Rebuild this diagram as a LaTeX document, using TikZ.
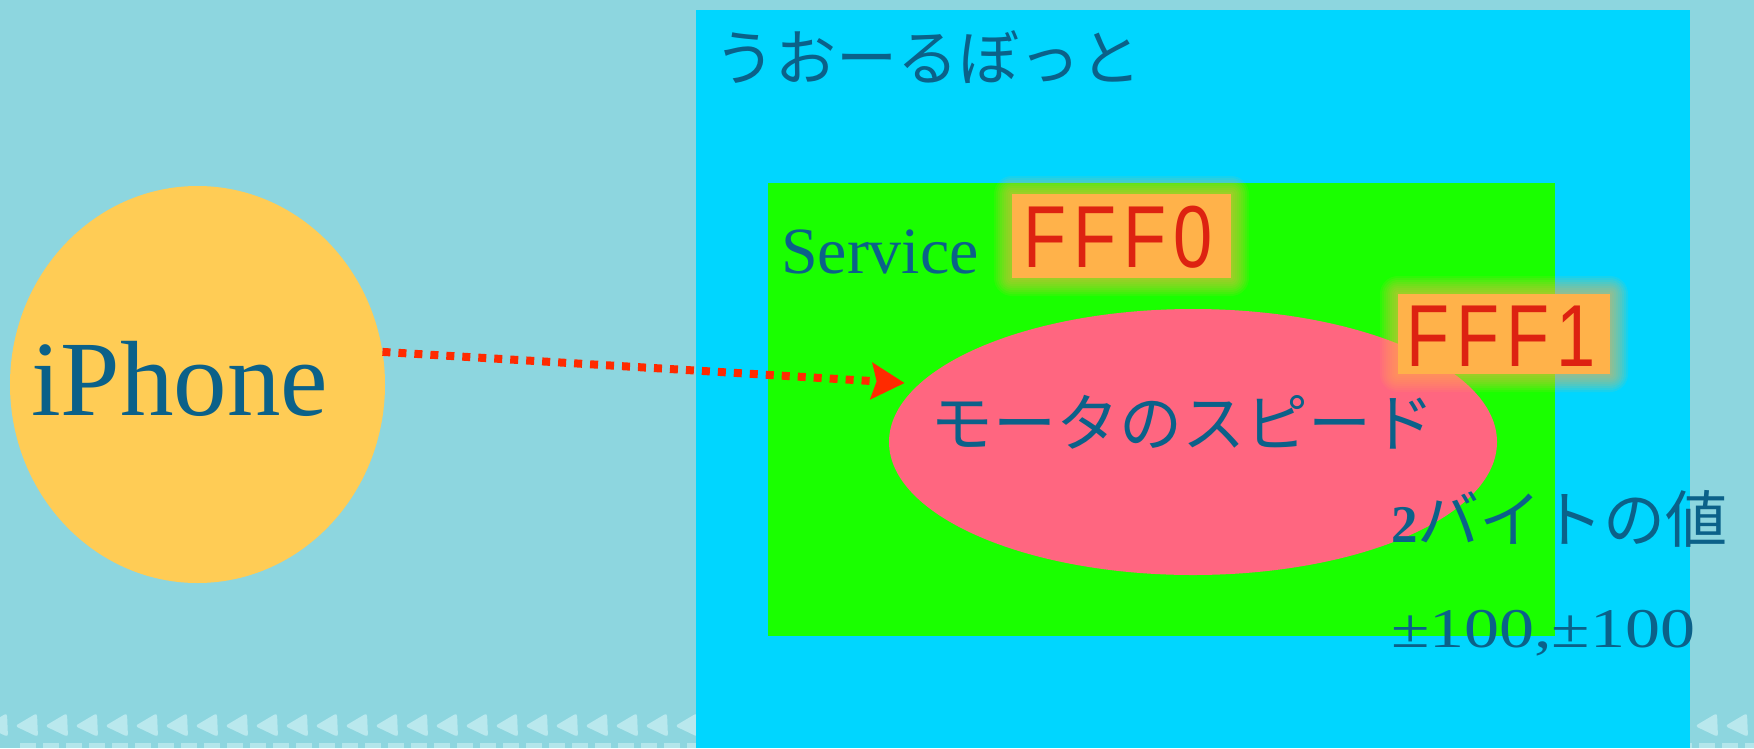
\documentclass[tikz,border=0pt]{standalone}
\usepackage{fontspec}
\usepackage{graphicx}
\setmainfont{Liberation Serif}
\newfontfamily\jp{Noto Sans CJK JP}
\newfontfamily\uuidfont[LetterSpace=10]{Liberation Sans}
\usetikzlibrary{arrows.meta,shapes.geometric}
\definecolor{bg}{HTML}{8DD6DF}
\definecolor{robotblue}{HTML}{00D6FF}
\definecolor{svcgreen}{HTML}{1AFF00}
\definecolor{phoneyellow}{HTML}{FFCC55}
\definecolor{charpink}{HTML}{FF6680}
\definecolor{uuidorange}{HTML}{FFB24A}
\definecolor{uuidred}{HTML}{DD2211}
\definecolor{txt}{HTML}{0B6189}
\definecolor{arrowred}{HTML}{FF2A00}
\definecolor{stripe}{HTML}{C4EDF1}
\newcommand{\uuid}[1]{\scalebox{0.8}[1]{\uuidfont\fontsize{88}{92}\selectfont #1}}
\tikzset{
  area/.style={rectangle, draw=none, inner sep=0pt, outer sep=0pt},
  oval/.style={ellipse, draw=none, inner sep=0pt, outer sep=0pt},
  label/.style={inner sep=0pt, outer sep=0pt, anchor=base west, text=txt},
  uuidbox/.style={rectangle, draw=none, fill=uuidorange, inner sep=0pt, outer sep=0pt},
  uuidtext/.style={inner sep=0pt, anchor=base west, text=uuidred},
  link/.style={arrowred, line width=8pt, dash pattern=on 8pt off 8pt, shorten >=15pt,
    -{Stealth[length=33pt,width=36pt,inset=5pt]}}
}
\begin{document}
\begin{tikzpicture}[x=1pt,y=-1pt]
\useasboundingbox (0,0) rectangle (1754,748);
\fill[bg] (0,0) rectangle (1754,748);
% bottom decorative strip
\foreach \i in {-1,...,58} {
  \fill[stripe, opacity=.8, rounded corners=3pt] ({\i*30+37},713) -- ({\i*30+38},737) -- ({\i*30+15},726) -- cycle;
}
\foreach \i in {0,...,76} {
  \fill[stripe, opacity=.7] ({\i*23+20},743) rectangle ({\i*23+36},748);
}
% robot and service areas
\node[area, fill=robotblue, minimum width=994pt, minimum height=738pt] (robot) at (1193,379) {};
\node[area, fill=svcgreen, minimum width=787pt, minimum height=453pt] (service) at (1161.5,409.5) {};
% FFF0 glow box
\node[uuidbox, minimum width=219pt, minimum height=84pt] (fff0box) at (1121.5,236) {};
\foreach \d in {2,4,...,18} {
  \fill[uuidorange, opacity=.09, rounded corners=\d pt] ([shift={(-\d,-\d)}]fff0box.north west) rectangle ([shift={(\d,\d)}]fff0box.south east);
}
\fill[uuidorange] (fff0box.north west) rectangle (fff0box.south east);
% characteristic ellipse
\node[oval, fill=charpink, minimum width=608pt, minimum height=266pt] (speed) at (1193,442) {};
% FFF1 glow box
\node[uuidbox, minimum width=212pt, minimum height=80pt] (fff1box) at (1504,334) {};
\foreach \d in {2,4,...,18} {
  \fill[uuidorange, opacity=.09, rounded corners=\d pt] ([shift={(-\d,-\d)}]fff1box.north west) rectangle ([shift={(\d,\d)}]fff1box.south east);
}
\fill[uuidorange] (fff1box.north west) rectangle (fff1box.south east);
% iPhone
\node[oval, fill=phoneyellow, minimum width=375pt, minimum height=397pt] (iphone) at (197.5,384.5) {};
% texts
\node[label, font=\fontsize{107}{112}\selectfont] (iphonetext) at (31,415) {iPhone};
\node[label, font=\jp\fontsize{61}{66}\selectfont] (robottext) at (714,80) {うおーるぼっと};
\node[label, font=\fontsize{66}{72}\selectfont] (servicetext) at (781,273) {Service};
\node[uuidtext] (fff0) at (1023,267) {\uuid{FFF0}};
\node[uuidtext] (fff1) at (1406,366) {\uuid{FFF1}};
\node[label, font=\jp\fontsize{63}{68}\selectfont] (speedtext) at (930,446) {モータのスピード};
\node[label] (sizetext) at (1391,542) {{\bfseries\fontsize{53}{58}\selectfont 2}{\jp\fontsize{62}{66}\selectfont バイトの値}};
\node[label] (rangetext) at (1391,647) {\scalebox{1.25}[1]{\fontsize{56}{60}\selectfont ±100,±100}};
% connector
\draw[link] (iphone.10) -- (speed.168);
\end{tikzpicture}
\end{document}
